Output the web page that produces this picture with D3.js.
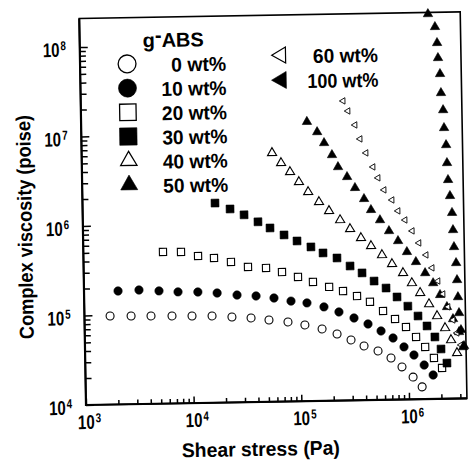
<!DOCTYPE html>
<html>
<head>
<meta charset="utf-8">
<script src="https://cdn.jsdelivr.net/npm/d3@7"></script>
<style>
  html, body { margin: 0; padding: 0; background: #fff; }
  svg { display: block; }
  text { font-family: "Liberation Sans", Arial, sans-serif; font-weight: bold; fill: #000; }
</style>
</head>
<body>
<svg id="chart" width="471" height="460"></svg>
<script>
// Shear stress (Pa) and complex viscosity (poise) for each g-ABS content
const stress00 = [1.73e3, 2.71e3, 4.15e3, 6.50e3, 9.97e3, 1.53e4, 2.34e4, 3.52e4, 5.16e4, 7.74e4, 1.11e5, 1.60e5, 2.20e5, 2.96e5, 3.90e5, 5.25e5, 6.91e5, 8.71e5, 1.10e6, 1.33e6];
const visc00   = [9.76e4, 9.67e4, 9.59e4, 9.50e4, 9.41e4, 9.33e4, 9.01e4, 8.71e4, 8.20e4, 7.73e4, 7.10e4, 6.36e4, 5.55e4, 4.73e4, 4.03e4, 3.52e4, 2.92e4, 2.31e4, 1.77e4, 1.37e4];

const stress10 = [2.07e3, 3.24e3, 4.97e3, 7.46e3, 1.14e4, 1.72e4, 2.63e4, 3.95e4, 5.79e4, 8.32e4, 1.17e5, 1.68e5, 2.31e5, 3.18e5, 4.28e5, 5.64e5, 7.27e5, 9.16e5, 1.13e6, 1.40e6, 1.69e6];
const visc10   = [1.85e5, 1.88e5, 1.82e5, 1.76e5, 1.74e5, 1.68e5, 1.58e5, 1.53e5, 1.44e5, 1.32e5, 1.25e5, 1.12e5, 9.77e4, 8.31e4, 7.08e4, 5.88e4, 4.88e4, 3.86e4, 3.12e4, 2.40e4, 1.85e4];

const stress20 = [5.49e3, 8.07e3, 1.16e4, 1.63e4, 2.34e4, 3.36e4, 4.94e4, 6.94e4, 9.75e4, 1.34e5, 1.89e5, 2.54e5, 3.42e5, 4.50e5, 5.93e5, 7.64e5, 9.63e5, 1.19e6, 1.44e6, 1.73e6, 2.05e6];
const visc20   = [4.95e5, 4.91e5, 4.39e5, 4.14e5, 3.71e5, 3.24e5, 3.13e5, 2.80e5, 2.45e5, 2.14e5, 1.87e5, 1.67e5, 1.46e5, 1.25e5, 9.82e4, 7.95e4, 6.44e4, 4.96e4, 3.82e4, 2.87e4, 2.21e4];

const stress30 = [1.70e4, 2.34e4, 3.15e4, 4.23e4, 5.46e4, 7.35e4, 9.68e4, 1.30e5, 1.68e5, 2.26e5, 2.98e5, 3.84e5, 4.95e5, 6.38e5, 8.04e5, 1.01e6, 1.25e6, 1.51e6, 1.78e6, 2.02e6, 2.28e6];
const visc30   = [1.70e6, 1.45e6, 1.24e6, 1.03e6, 8.74e5, 7.26e5, 6.18e5, 5.27e5, 4.49e5, 3.92e5, 3.17e5, 2.64e5, 2.13e5, 1.77e5, 1.40e5, 1.10e5, 8.50e4, 6.55e4, 4.92e4, 3.60e4, 2.50e4];

const stress40 = [5.86e4, 7.08e4, 8.55e4, 1.03e5, 1.25e5, 1.57e5, 1.94e5, 2.45e5, 3.02e5, 3.80e5, 4.70e5, 5.92e5, 7.31e5, 9.22e5, 1.11e6, 1.32e6, 1.59e6, 1.88e6, 2.22e6, 2.51e6, 2.84e6];
const visc40   = [6.02e6, 4.63e6, 3.66e6, 2.82e6, 2.17e6, 1.67e6, 1.32e6, 1.04e6, 8.22e5, 6.49e5, 5.26e5, 4.15e5, 3.28e5, 2.59e5, 1.99e5, 1.54e5, 1.15e5, 8.43e4, 6.17e4, 4.52e4, 3.23e4];

const stress50 = [1.25e5, 1.55e5, 1.79e5, 2.11e5, 2.39e5, 2.89e5, 3.41e5, 4.12e5, 4.76e5, 5.75e5, 6.94e5, 8.39e5, 1.01e6, 1.22e6, 1.48e6, 1.75e6, 2.02e6, 2.33e6, 2.64e6, 2.99e6, 3.31e6];
const visc50   = [1.32e7, 1.01e7, 7.60e6, 5.56e6, 4.07e6, 3.14e6, 2.36e6, 1.77e6, 1.33e6, 1.02e6, 7.67e5, 5.91e5, 4.44e5, 3.42e5, 2.56e5, 1.97e5, 1.45e5, 1.06e5, 7.75e4, 5.53e4, 3.85e4];

const stress60 = [2.73e5, 3.02e5, 3.49e5, 3.87e5, 4.37e5, 5.05e5, 5.60e5, 6.34e5, 7.49e5, 8.48e5, 9.82e5, 1.14e6, 1.31e6, 1.52e6, 1.72e6, 1.94e6, 2.15e6, 2.38e6, 2.64e6, 2.86e6, 3.10e6];
const visc60   = [2.22e7, 1.71e7, 1.19e7, 8.29e6, 5.77e6, 4.01e6, 3.02e6, 2.21e6, 1.70e6, 1.28e6, 1.01e6, 7.60e5, 5.56e5, 4.07e5, 2.91e5, 2.07e5, 1.48e5, 1.06e5, 7.55e4, 5.40e4, 3.96e4];

const stress100 = [1.73e6, 2.00e6, 2.08e6, 2.11e6, 2.19e6, 2.22e6, 2.31e6, 2.34e6, 2.43e6, 2.46e6, 2.50e6, 2.59e6, 2.69e6, 2.73e6, 2.77e6, 2.88e6, 2.92e6, 2.96e6, 3.01e6, 3.12e6, 3.24e6];
const visc100   = [2.00e8, 1.43e8, 9.47e7, 6.43e7, 4.26e7, 2.61e7, 1.68e7, 1.06e7, 6.83e6, 4.30e6, 2.78e6, 1.84e6, 1.19e6, 7.65e5, 4.94e5, 3.27e5, 2.11e5, 1.36e5, 9.02e4, 5.82e4, 3.75e4];

// Legend labels
const legendTitle = "g-ABS";
const labelsLeft  = ["0 wt%", "10 wt%", "20 wt%", "30 wt%", "40 wt%", "50 wt%"];
const labelsRight = ["60 wt%", "100 wt%"];

// Decade tick exponents
const xTickExps = [3, 4, 5, 6];
const yTickExps = [4, 5, 6, 7, 8];

const xTitle = "Shear stress (Pa)";
const yTitle = "Complex viscosity (poise)";

// ---- marker shapes ----
const SHAPES = {
  circle:   { type: d3.symbolCircle,   rot: 0 },
  square:   { type: d3.symbolSquare,   rot: 0 },
  triangle: { type: d3.symbolTriangle, rot: 0 },
  triLeft:  { type: d3.symbolTriangle, rot: -90 }
};

const series = [
  { stress: stress00,  visc: visc00,  shape: "circle",   filled: false, size: 50, legendSize: 250 },
  { stress: stress10,  visc: visc10,  shape: "circle",   filled: true,  size: 55, legendSize: 255 },
  { stress: stress20,  visc: visc20,  shape: "square",   filled: false, size: 52, legendSize: 270 },
  { stress: stress30,  visc: visc30,  shape: "square",   filled: true,  size: 62, legendSize: 300 },
  { stress: stress40,  visc: visc40,  shape: "triangle", filled: false, size: 36, legendSize: 115 },
  { stress: stress50,  visc: visc50,  shape: "triangle", filled: true,  size: 38, legendSize: 125 },
  { stress: stress60,  visc: visc60,  shape: "triLeft",  filled: false, size: 18, legendSize: 110 },
  { stress: stress100, visc: visc100, shape: "triangle", filled: true,  size: 38, legendSize: 125, legendShape: "triLeft" }
];

const svg = d3.select("#chart");
// whole figure sits at a slight angle on the page
const root = svg.append("g").attr("transform", "rotate(-1,85.5,405)");

const x = d3.scaleLog().domain([1e3, 3.45e6]).range([86, 467]);
const y = d3.scaleLog().domain([1e4, 2.08e8]).range([405, 18.5]);

function minorTicks(scale) {
  const [a, b] = scale.domain();
  const r = scale.range();
  const out = [];
  for (let e = Math.floor(Math.log10(a)); e <= Math.ceil(Math.log10(b)); e++) {
    for (let m = 2; m <= 9; m++) {
      const v = m * Math.pow(10, e);
      if (v > a && v < b && Math.abs(scale(v) - r[1]) > 4) out.push(v);
    }
  }
  return out;
}
const xMajor = xTickExps.map(e => Math.pow(10, e));
const yMajor = yTickExps.map(e => Math.pow(10, e));

function styleAxis(g) {
  g.select(".domain").remove();
  g.selectAll(".tick line").attr("stroke", "#000").attr("stroke-width", 1.5);
}

// x ticks point up into the plot
root.append("g").attr("transform", "translate(0,405)")
  .call(d3.axisBottom(x).tickValues(minorTicks(x)).tickSize(-4.5).tickFormat(() => ""))
  .call(styleAxis);
root.append("g").attr("transform", "translate(0,405)")
  .call(d3.axisBottom(x).tickValues(xMajor).tickSize(-6.5).tickFormat(() => ""))
  .call(styleAxis);

// y ticks point right into the plot
root.append("g").attr("transform", "translate(86,0)")
  .call(d3.axisLeft(y).tickValues(minorTicks(y)).tickSize(-6).tickFormat(() => ""))
  .call(styleAxis);
root.append("g").attr("transform", "translate(86,0)")
  .call(d3.axisLeft(y).tickValues(yMajor).tickSize(-8).tickFormat(() => ""))
  .call(styleAxis);

// frame
const [x0, x1] = x.range();
const [y0, y1] = y.range();
root.append("rect")
  .attr("x", x0).attr("y", y1).attr("width", x1 - x0).attr("height", y0 - y1)
  .attr("fill", "none").attr("stroke", "#000").attr("stroke-width", 1.6);
root.append("path")
  .attr("d", `M${x0},${y1}V${y0}H${x1}`)
  .attr("fill", "none").attr("stroke", "#000").attr("stroke-width", 2.2);

// power-of-ten label: condensed "10" with a raised exponent
const SQUEEZE = 0.75;
function powerLabel(g, left, base, exp) {
  const t = g.append("g").attr("transform", `translate(${left},${base}) scale(${SQUEEZE},1)`)
    .append("text").attr("font-size", 20);
  t.append("tspan").text("10");
  t.append("tspan").attr("dx", 1.5).attr("dy", -6.5).attr("font-size", 13).text(exp);
}
const xLab = root.append("g");
xMajor.forEach((v, i) => powerLabel(xLab, x(v) - 8.3, 429, xTickExps[i]));
const yLab = root.append("g");
yMajor.forEach((v, i) => powerLabel(yLab, 49, y(v) + 9.5, yTickExps[i]));

// axis titles
root.append("text").attr("x", 181).attr("y", 459).attr("font-size", 20)
  .attr("textLength", 158).attr("lengthAdjust", "spacingAndGlyphs").text(xTitle);
root.append("text").attr("transform", "translate(35,226) rotate(-90)")
  .attr("text-anchor", "middle").attr("font-size", 20)
  .attr("textLength", 224).attr("lengthAdjust", "spacingAndGlyphs").text(yTitle);

// data markers
function marker(sel, shapeKey, filled, size, strokeW) {
  const s = SHAPES[shapeKey];
  sel.attr("d", d3.symbol().type(s.type).size(size)())
    .attr("fill", filled ? "#000" : "#fff")
    .attr("stroke", "#000")
    .attr("stroke-width", filled ? 0.6 : strokeW);
}

const plot = root.append("g");
series.forEach(s => {
  const pts = s.stress.map((v, i) => [v, s.visc[i]]);
  const rot = SHAPES[s.shape].rot;
  const sel = plot.append("g").selectAll("path").data(pts).join("path")
    .attr("transform", d => `translate(${x(d[0])},${y(d[1])}) rotate(${rot})`);
  marker(sel, s.shape, s.filled, s.size, s.shape === "triLeft" ? 0.9 : 1.1);
});

// legend
const leg = root.append("g");
leg.append("text").attr("x", 149).attr("y", 48.4).attr("font-size", 20)
  .call(t => {
    t.append("tspan").text(legendTitle.slice(0, 1));
    t.append("tspan").attr("dy", -5).text(legendTitle.slice(1, 2));
    t.append("tspan").attr("dy", 5).text(legendTitle.slice(2));
  });

function legendLabel(xEnd, base, lab) {
  const w = lab.length >= 7 ? 71 : (lab.length === 6 ? 65 : 55);
  leg.append("text").attr("x", xEnd - w).attr("y", base).attr("font-size", 20)
    .attr("textLength", w).attr("lengthAdjust", "spacingAndGlyphs").text(lab);
}

labelsLeft.forEach((lab, i) => {
  const s = series[i];
  const cy = 64.7 + i * 24.2;
  const shp = s.legendShape || s.shape;
  const p = leg.append("path").attr("transform", `translate(133,${cy}) rotate(${SHAPES[shp].rot})`);
  marker(p, shp, s.filled, s.legendSize, 1.3);
  legendLabel(232, cy + 8.5, lab);
});
labelsRight.forEach((lab, i) => {
  const s = series[6 + i];
  const cy = 58.5 + i * 25;
  const shp = s.legendShape || s.shape;
  const p = leg.append("path").attr("transform", `translate(287,${cy}) rotate(${SHAPES[shp].rot})`);
  marker(p, shp, s.filled, s.legendSize, 1.2);
  legendLabel(384, cy + 8.5, lab);
});
</script>
</body>
</html>
